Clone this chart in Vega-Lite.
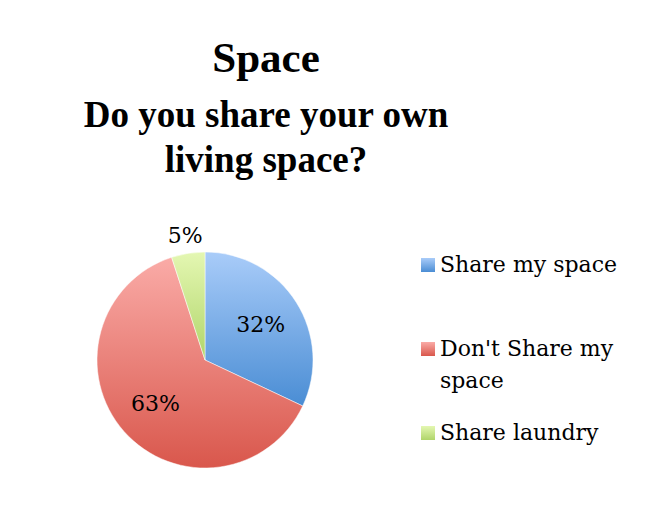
{
  "$schema": "https://vega.github.io/schema/vega-lite/v6.json",
  "width": 216,
  "height": 216,
  "autosize": "none",
  "padding": {"left": 97, "top": 252, "right": 334, "bottom": 51},
  "background": "white",
  "config": {"style": {"guide-label": {"lineHeight": 32}}},
  "title": {
    "text": "Space",
    "subtitle": ["Do you share your own", "living space?"],
    "font": "Liberation Serif",
    "fontSize": 43,
    "fontWeight": "bold",
    "color": "black",
    "subtitleFont": "Liberation Serif",
    "subtitleFontSize": 37,
    "subtitleFontWeight": "bold",
    "subtitleColor": "black",
    "subtitleLineHeight": 45,
    "subtitlePadding": 17,
    "anchor": "middle",
    "frame": "group",
    "dx": 61,
    "offset": 46
  },
  "data": {
    "values": [
      {"category": "Share my space", "value": 32, "order": 1, "label": "32%"},
      {"category": "Don't Share my space", "value": 63, "order": 2, "label": "63%"},
      {"category": "Share laundry", "value": 5, "order": 3, "label": "5%"}
    ]
  },
  "encoding": {
    "theta": {"field": "value", "type": "quantitative", "stack": true},
    "order": {"field": "order", "type": "quantitative"}
  },
  "layer": [
    {
      "mark": {"type": "arc", "outerRadius": 108, "stroke": "white", "strokeWidth": 0.5},
      "encoding": {
        "color": {
          "field": "category",
          "type": "nominal",
          "sort": ["Share my space", "Don't Share my space", "Share laundry"],
          "scale": {
            "range": [
              {"expr": "{gradient: 'linear', x1: 0, y1: 0, x2: 0, y2: 1, stops: [{offset: 0, color: '#a9ccf9'}, {offset: 1, color: '#4a8dd4'}]}"},
              {"expr": "{gradient: 'linear', x1: 0, y1: 0, x2: 0, y2: 1, stops: [{offset: 0, color: '#faaba7'}, {offset: 1, color: '#d9574c'}]}"},
              {"expr": "{gradient: 'linear', x1: 0, y1: 0, x2: 0, y2: 1, stops: [{offset: 0, color: '#e4f7b2'}, {offset: 1, color: '#b0d56a'}]}"}
            ]
          },
          "legend": {
            "title": null,
            "orient": "none",
            "legendX": 320,
            "legendY": 2,
            "padding": 0,
            "symbolType": "square",
            "symbolSize": 196,
            "symbolStrokeWidth": 0,
            "labelFont": "DejaVu Serif",
            "labelFontSize": 22,
            "labelColor": "black",
            "labelLimit": 300,
            "labelOffset": 1,
            "rowPadding": 30,
            "labelExpr": "datum.label == \"Don't Share my space\" ? [\"Don't Share my\", \"space\"] : [datum.label, \" \"]",
            "encode": {"labels": {"update": {"lineHeight": {"value": 32}}}}
          }
        }
      }
    },
    {
      "mark": {"type": "text", "radius": 66, "font": "DejaVu Serif", "fontSize": 22, "color": "black"},
      "encoding": {
        "text": {"condition": {"test": "datum.value >= 10", "field": "label"}, "value": ""}
      }
    },
    {
      "mark": {"type": "text", "radius": 126, "font": "DejaVu Serif", "fontSize": 22, "color": "black"},
      "encoding": {
        "text": {"condition": {"test": "datum.value < 10", "field": "label"}, "value": ""}
      }
    }
  ]
}
